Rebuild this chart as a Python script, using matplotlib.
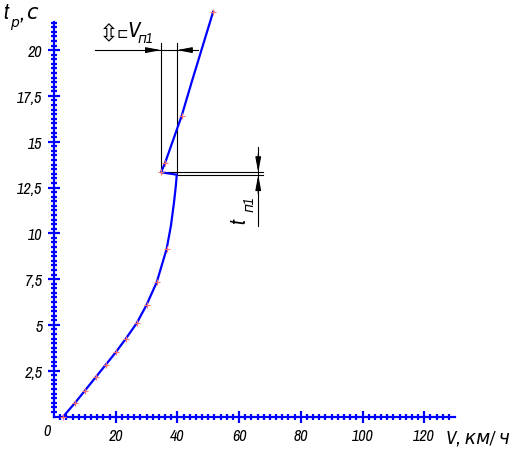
import matplotlib

matplotlib.use("Agg")
import matplotlib.pyplot as plt
from matplotlib import font_manager
from matplotlib.ticker import FixedLocator

# curve: speed V (km/h) vs time t_p (s)
speed = [3.0, 6.8, 10.0, 13.5, 16.8, 20.0, 23.2, 26.8, 30.0, 33.3, 36.5,
         37.9, 38.9, 39.5, 39.8, 34.7, 36.0, 41.4, 44.6, 51.6]
time_s = [0.0, 0.74, 1.41, 2.14, 2.83, 3.5, 4.23, 5.09, 6.09, 7.33, 9.14,
          10.41, 11.69, 12.6, 13.2, 13.33, 13.84, 16.42, 18.24, 22.1]
marked = [1, 1, 1, 1, 1, 1, 1, 1, 1, 1, 1,
          0, 0, 0, 0, 1, 1, 1, 0, 1]

x_major = [20, 40, 60, 80, 100, 120]
x_labels = ["20", "40", "60", "80", "100", "120"]
y_major = [2.5, 5, 7.5, 10, 12.5, 15, 17.5, 20]
y_labels = ["2,5", "5", "7,5", "10", "12,5", "15", "17,5", "20"]

# dimension marks
v_shift = (34.7, 39.8)      # speed drop at the gear shift
t_shift = (13.18, 13.33)    # duration of the shift
v_dim_t = 20.0

BLUE = "#0000ff"
W, H = 515, 456
X0, SX = 54.0, 3.085        # pixel of V=0, px per km/h
Y0, SY = 417.5, 18.32       # pixel of t=0, px per s

# look for a narrow face, the drawing font is a condensed one
fonts = font_manager.fontManager.ttflist
FONT = dict(family=["DejaVu Sans"])
scale = 0.8
narrow = [f for f in fonts if "Narrow" in f.name or "Condensed" in f.name]
cond = [f for f in fonts if f.stretch in ("condensed", "semi-condensed", "extra-condensed")]
if narrow:
    FONT = dict(family=[narrow[0].name, "DejaVu Sans"])
    scale = 1.0
elif cond:
    FONT = dict(family=[cond[0].name, "DejaVu Sans"], stretch=cond[0].stretch)
    scale = 0.95

fig = plt.figure(figsize=(W / 100, H / 100), dpi=100)
ax = fig.add_axes([0, 0, 1, 1])
ax.set_xlim(-X0 / SX, (W - X0) / SX)
ax.set_ylim(-(H - Y0) / SY, Y0 / SY)
ax.patch.set_visible(False)

for s in ("top", "right"):
    ax.spines[s].set_visible(False)
for s in ("left", "bottom"):
    ax.spines[s].set_position(("data", 0))
    ax.spines[s].set_color(BLUE)
    ax.spines[s].set_linewidth(1.6)
ax.spines["left"].set_bounds(0, 21.55)
ax.spines["bottom"].set_bounds(0, 130)

ax.xaxis.set_major_locator(FixedLocator(x_major))
ax.xaxis.set_minor_locator(FixedLocator([v for v in range(2, 130, 2) if v % 20]))
ax.yaxis.set_major_locator(FixedLocator(y_major))
ax.yaxis.set_minor_locator(FixedLocator([i * 0.25 for i in range(1, 87) if i % 10]))
ax.set_xticklabels(x_labels)
ax.set_yticklabels(y_labels)
ax.tick_params(which="major", direction="inout", length=8.5, width=1.6, color=BLUE,
               labelsize=11.5 * scale, pad=4)
ax.tick_params(which="minor", direction="inout", length=5, width=1.6, color=BLUE)
for lab in ax.get_xticklabels() + ax.get_yticklabels():
    lab.set_fontproperties(font_manager.FontProperties(style="italic", size=11.5 * scale, **FONT))

ax.plot(speed, time_s, color=BLUE, lw=1.6, zorder=3)
ax.plot([v for v, m in zip(speed, marked) if m], [t for t, m in zip(time_s, marked) if m],
        ls="none", marker="+", ms=4, mew=0.8, color="#ff7070", zorder=4)

# dimension for the speed drop
lk = dict(color="black", lw=0.8)
top_t = 20.39
ax.plot([v_shift[0], v_shift[0]], [t_shift[1], top_t], **lk)
ax.plot([v_shift[1], v_shift[1]], [t_shift[0], top_t], **lk)
ax.plot([13.3, 46.7], [v_dim_t, v_dim_t], **lk)
ap = dict(arrowstyle="-|>,head_length=0.9,head_width=0.17", color="black", lw=0.8,
          shrinkA=0, shrinkB=0)
ax.annotate("", xy=(v_shift[0], v_dim_t), xytext=(v_shift[0] - 5, v_dim_t), arrowprops=ap)
ax.annotate("", xy=(v_shift[1], v_dim_t), xytext=(v_shift[1] + 5, v_dim_t), arrowprops=ap)

# dimension for the shift time
ax.plot([v_shift[0], 67.7], [t_shift[1], t_shift[1]], **lk)
ax.plot([v_shift[1], 67.7], [t_shift[0], t_shift[0]], **lk)
ax.plot([66.2, 66.2], [10.41, 14.71], **lk)
ax.annotate("", xy=(66.2, t_shift[1]), xytext=(66.2, t_shift[1] + 1.0), arrowprops=ap)
ax.annotate("", xy=(66.2, t_shift[0]), xytext=(66.2, t_shift[0] - 1.0), arrowprops=ap)


def px(x, y):
    return x / W, 1 - y / H


def fp(size):
    return font_manager.FontProperties(style="italic", size=size * scale, **FONT)


def label(x, y, s, size, **kw):
    ax.text(*px(x, y), s, transform=ax.transAxes, color="black", fontproperties=fp(size), **kw)


label(47, 432, "0", 11.5, ha="center", va="center")
# axis titles
label(3, 19, "t", 16, ha="left", va="baseline")
label(10, 27, "р", 10, ha="left", va="baseline")
label(20, 19, ",", 15, ha="left", va="baseline")
label(26, 19, "с", 15, ha="left", va="baseline")
label(446, 444, "V, км/ ч", 13.5, ha="left", va="baseline")
# dimension labels
ax.text(*px(99, 41), "⇳", ha="left", va="baseline", fontsize=17,
        transform=ax.transAxes, family="DejaVu Sans", color="black")
ax.text(*px(117, 38), "⊏", ha="left", va="baseline", fontsize=10,
        transform=ax.transAxes, family="DejaVu Sans", color="black")
label(127, 37, "V", 16, ha="left", va="baseline")
label(137, 43, "п1", 10, ha="left", va="baseline")
label(245, 224, "t", 16, ha="left", va="baseline", rotation=90, rotation_mode="anchor")
label(253, 212, "п1", 10, ha="left", va="baseline", rotation=90, rotation_mode="anchor")

fig.savefig("out.png", dpi=100)
